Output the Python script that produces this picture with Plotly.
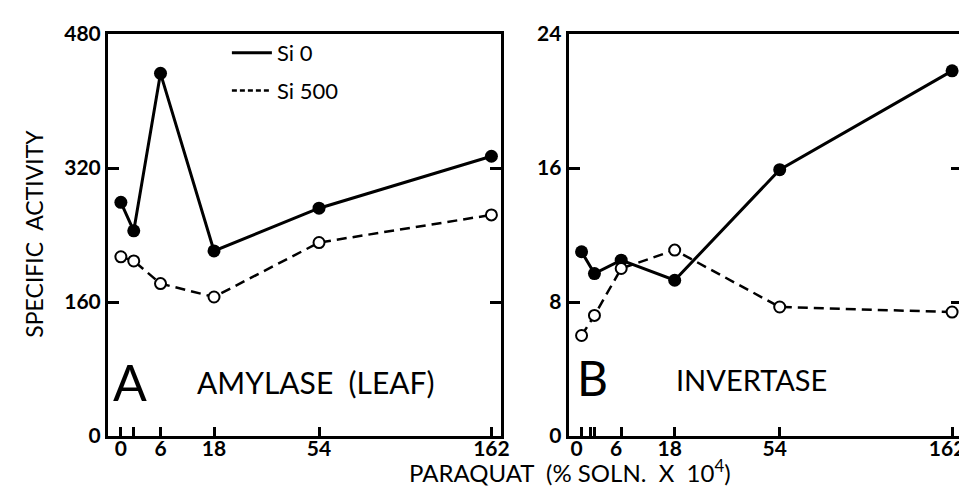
import plotly.graph_objects as go

# ---- data ----
dose_labels = ["0", "2", "6", "18", "54", "162"]         # paraquat (% soln x 10^4); dose 2 is unlabeled
dose_axis_pos = [13, 26, 53, 107, 213, 387]                # position of each dose on the (non-linear) axis
labeled_idx = [0, 2, 3, 4, 5]
extra_tick_B = [22]

amylase_si0 = [279, 245, 433, 221, 272, 334]
amylase_si500 = [214, 209, 182, 166, 231, 264]
invertase_si0 = [11.0, 9.7, 10.5, 9.3, 15.9, 21.8]
invertase_si500 = [6.0, 7.2, 10.0, 11.1, 7.7, 7.4]

amylase_yticks = [0, 160, 320, 480]
invertase_yticks = [0, 8, 16, 24]

FONT = "Lato"
W, H = 967, 490
ML, MR, MT, MB = 100, 5, 26, 62
PW = W - ML - MR
PH = H - MT - MB

def px_x(p):
    return (p - ML) / PW

def px_y(p):
    return 1 - (p - MT) / PH

fig = go.Figure()

def add_pair(si0, si500, xa, ya):
    fig.add_trace(go.Scatter(
        x=dose_axis_pos, y=si0, xaxis=xa, yaxis=ya, mode="lines+markers",
        line=dict(color="black", width=3),
        marker=dict(symbol="circle", size=13, color="black"),
        showlegend=False))
    fig.add_trace(go.Scatter(
        x=dose_axis_pos, y=si500, xaxis=xa, yaxis=ya, mode="lines+markers",
        line=dict(color="black", width=2.5, dash="10px,6px"),
        marker=dict(symbol="circle", size=11, color="white",
                    line=dict(color="black", width=2)),
        showlegend=False))

add_pair(amylase_si0, amylase_si500, "x", "y")
add_pair(invertase_si0, invertase_si500, "x2", "y2")

# legend entries (line samples only)
fig.add_trace(go.Scatter(x=[None], y=[None], mode="lines", name="Si 0",
                         line=dict(color="black", width=3), legendgroup="a"))
fig.add_trace(go.Scatter(x=[None], y=[None], mode="lines", name="Si 500",
                         line=dict(color="black", width=2.5, dash="5px,3px"), legendgroup="b"))

axis_common = dict(showgrid=False, zeroline=False, showline=True, linecolor="black",
                   linewidth=3, ticks="inside", tickcolor="black", tickwidth=2.5,
                   tickfont=dict(family=FONT, size=21, color="black", weight="bold"))

lab_vals = [dose_axis_pos[i] for i in labeled_idx]
lab_text = [dose_labels[i] for i in labeled_idx]
unlab_vals = [dose_axis_pos[1]]

xdomA = [0, px_x(497)]
xdomB = [px_x(565), 1]

minor_style = dict(ticks="inside", ticklen=9, tickwidth=2.5, tickcolor="black", showgrid=False)

fig.update_layout(
    width=W, height=H,
    margin=dict(l=ML, r=MR, t=MT, b=MB),
    paper_bgcolor="white", plot_bgcolor="white",
    font=dict(family=FONT, color="black"),
    xaxis=dict(domain=xdomA, range=[0, 397], tickvals=lab_vals, ticktext=lab_text,
               ticklen=9, mirror=True, anchor="y", ticklabelstandoff=-8,
               minor=dict(tickvals=unlab_vals, **minor_style), **axis_common),
    yaxis=dict(domain=[0, 1], range=[0, 480], tickvals=amylase_yticks, ticklen=11,
               mirror="ticks", anchor="x", **axis_common),
    xaxis2=dict(domain=xdomB, range=[0, 397],
                tickvals=lab_vals, ticktext=lab_text,
                ticklen=9, mirror=True, anchor="y2", ticklabelstandoff=-8,
                ticklabelshift=-5,
                minor=dict(tickvals=unlab_vals + extra_tick_B, **minor_style), **axis_common),
    yaxis2=dict(domain=[0, 1], range=[0, 24], tickvals=invertase_yticks, ticklen=11,
                mirror="ticks", anchor="x2", **axis_common),
    legend=dict(x=px_x(220), y=px_y(24), xanchor="left", yanchor="top",
                font=dict(family=FONT, size=22, color="black"),
                bgcolor="rgba(0,0,0,0)", tracegroupgap=6, itemwidth=40),
)

ann = [
    dict(text="SPECIFIC  ACTIVITY", x=px_x(25), y=px_y(226), textangle=-90,
         font=dict(size=23)),
    dict(text="PARAQUAT  (% SOLN.  X  10<sup>4</sup>)", x=px_x(566), y=px_y(463),
         font=dict(size=24)),
    dict(text="A", x=px_x(122), y=px_y(374), font=dict(size=50)),
    dict(text="AMYLASE  (LEAF)", x=px_x(310), y=px_y(374), font=dict(size=30)),
    dict(text="B", x=px_x(589), y=px_y(369), font=dict(size=48)),
    dict(text="INVERTASE", x=px_x(750), y=px_y(371), font=dict(size=29)),
]
for a in ann:
    a.update(xref="paper", yref="paper", showarrow=False, xanchor="center", yanchor="middle")
    a["font"] = dict(family=FONT, color="black", size=a["font"]["size"])
fig.update_layout(annotations=ann)

fig.write_html("out.html")
